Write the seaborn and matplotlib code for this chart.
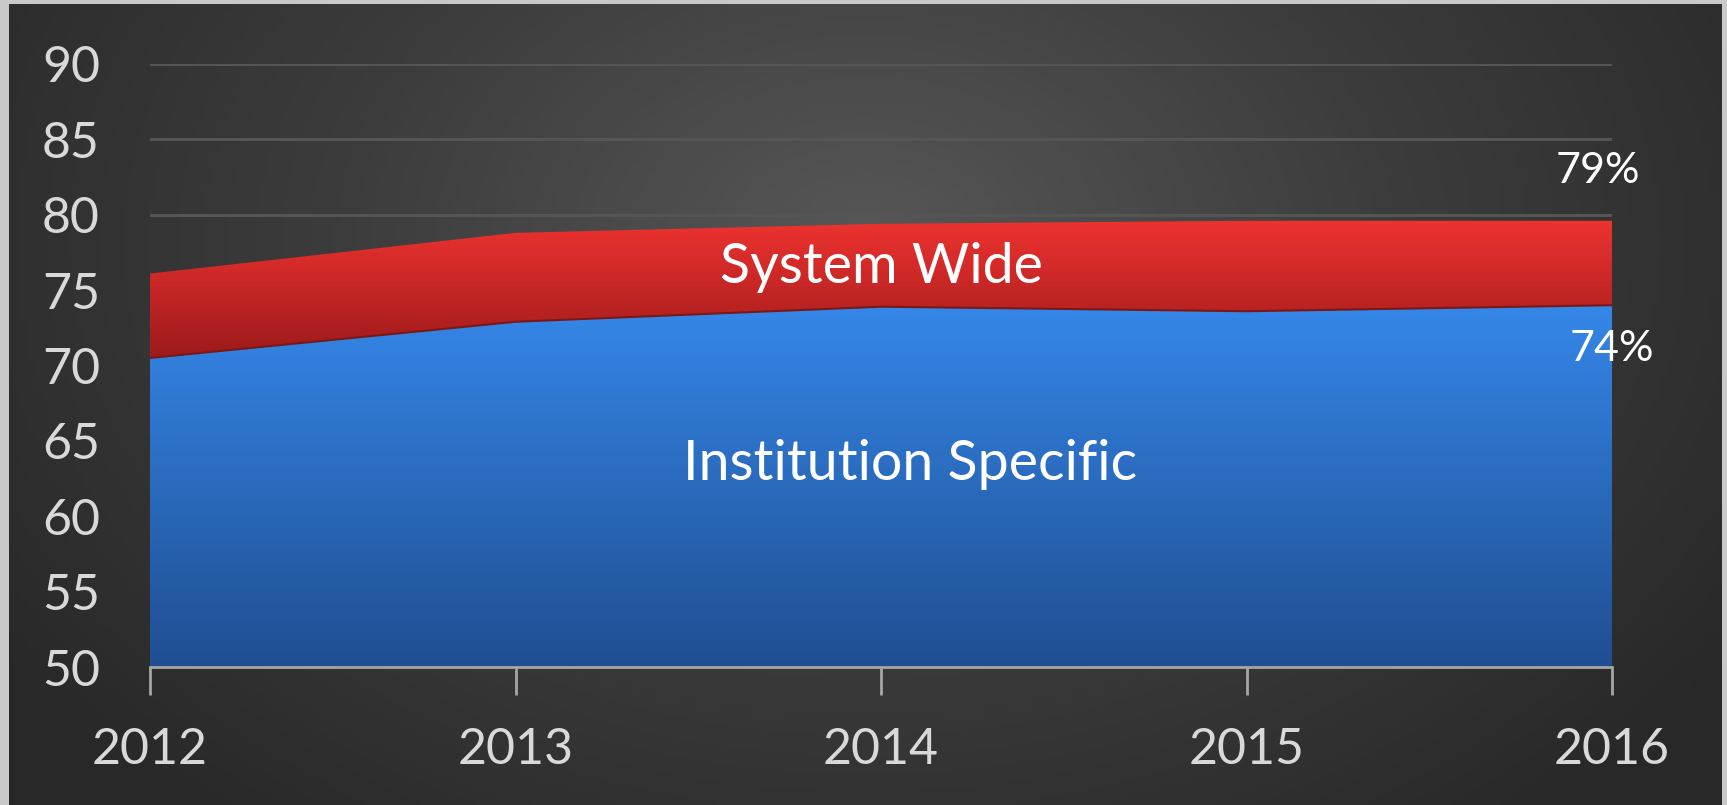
"""
Stacked area chart: Institution Specific vs System Wide, 2012-2016
"""

import numpy as np
import pandas as pd
import seaborn as sns
import matplotlib.pyplot as plt
from matplotlib.colors import LinearSegmentedColormap

# data
YEARS = [2012, 2013, 2014, 2015, 2016]
INSTITUTION = [70.5, 72.9, 73.9, 73.6, 74.0]
SYSTEM_WIDE = [5.6, 5.9, 5.5, 6.0, 5.6]
Y_TICKS = [50, 55, 60, 65, 70, 75, 80, 85, 90]
END_LABELS = ['79%', '74%']

DATA = pd.DataFrame({'year': YEARS, 'institution': INSTITUTION, 'system': SYSTEM_WIDE})
DATA['total'] = DATA['institution'] + DATA['system']

sns.set_theme(style='dark')
plt.rcParams['font.family'] = ['Lato', 'DejaVu Sans']

# set plot dimensions
X_PIXELS, Y_PIXELS, DPI = 1727, 805, 100
fig = plt.figure(figsize=(X_PIXELS / DPI, Y_PIXELS / DPI), dpi=DPI, facecolor='#c9c9c9')

# dark radial background
bg = fig.add_axes([9 / X_PIXELS, 0, (1722 - 9) / X_PIXELS, 1 - 4 / Y_PIXELS])
gx, gy = np.meshgrid(np.linspace(0, 1, 400), np.linspace(0, 1, 200))
dist = np.sqrt(((gx - 0.5) / 0.62) ** 2 + ((gy - 0.3) / 0.95) ** 2)
bg_cmap = LinearSegmentedColormap.from_list('bg', ['#575757', '#3c3c3c', '#282828'])
bg.imshow(np.clip(dist, 0, 1), cmap=bg_cmap, aspect='auto', extent=[0, 1, 1, 0], vmin=0, vmax=1)
bg.set_axis_off()

ax = fig.add_axes([150 / X_PIXELS, 1 - 667 / Y_PIXELS, (1612 - 150) / X_PIXELS, (667 - 64) / Y_PIXELS])
ax.set_facecolor('none')


def gradient_fill(lower, upper, top_color, bottom_color):
    poly = ax.fill_between(DATA['year'], lower, upper, facecolor='none', edgecolor='none')
    grad = np.linspace(1, 0, 256).reshape(-1, 1)
    cmap = LinearSegmentedColormap.from_list('g', [bottom_color, top_color])
    lo = np.min(lower)
    img = ax.imshow(grad, cmap=cmap, aspect='auto', extent=[2012, 2016, lo, np.max(upper)],
                    origin='upper', zorder=2)
    img.set_clip_path(poly.get_paths()[0], transform=ax.transData)


gradient_fill(50, DATA['institution'].values, '#3587e8', '#1f4e92')
gradient_fill(DATA['institution'].values, DATA['total'].values, '#ee3330', '#9c1a1a')
sns.lineplot(x='year', y='institution', data=DATA, color='#7a1818', linewidth=1.5, ax=ax, zorder=3)

ax.set_xlim(2012, 2016)
ax.set_ylim(50, 90)
ax.set_yticks(Y_TICKS)
ax.set_xticks(YEARS)
ax.set_xticklabels([str(y) for y in YEARS])
ax.grid(axis='y', color='#555555', linewidth=2.2, zorder=0)
ax.grid(axis='x', visible=False)
ax.set_axisbelow(True)
for side in ['top', 'right', 'left']:
    ax.spines[side].set_visible(False)
ax.spines['bottom'].set_color('#a6a6a6')
ax.spines['bottom'].set_linewidth(2)
ax.spines['bottom'].set_zorder(4)
ax.tick_params(axis='x', colors='#a6a6a6', length=20, width=2, direction='out', pad=23,
               labelcolor='#d9d9d9', labelsize=36, bottom=True)
ax.tick_params(axis='y', length=0, pad=36, labelcolor='#d9d9d9', labelsize=36)
ax.set_xlabel('')
ax.set_ylabel('')

# labels inside the areas
ax.text(2014.0, 76.5, 'System Wide', color='white', fontsize=40, ha='center', va='center', zorder=5)
ax.text(2014.08, 63.4, 'Institution Specific', color='white', fontsize=40, ha='center', va='center', zorder=5)
ax.text(2015.96, 82.9, END_LABELS[0], color='white', fontsize=31, ha='center', va='center', zorder=5)
ax.text(2016.0, 71.1, END_LABELS[1], color='white', fontsize=31, ha='center', va='center', zorder=5)

plt.savefig('out.png', dpi=DPI)
